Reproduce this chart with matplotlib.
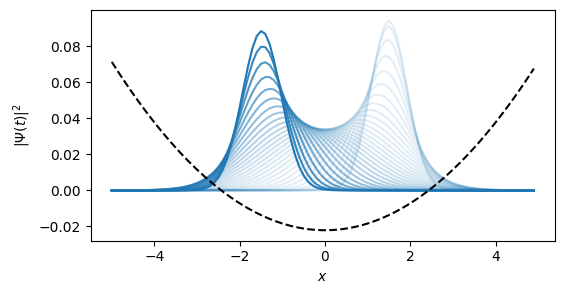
import numpy as np
import matplotlib
matplotlib.use("Agg")
import matplotlib.pyplot as plt

# grid of x values
x_start, x_stop, x_step = -5.0, 5.0, 0.1

# wave-packet snapshots: peak position and peak height
peak_pos = [1.500, 1.493, 1.470, 1.433, 1.382, 1.316, 1.238, 1.147, 1.045, 0.932,
            0.811, 0.680, 0.544, 0.401, 0.255, 0.106, -0.044, -0.193, -0.341, -0.485,
            -0.624, -0.757, -0.883, -0.999, -1.106, -1.202, -1.285, -1.356, -1.413, -1.456,
            -1.485]
peak_height = [0.0940, 0.0910, 0.0836, 0.0747, 0.0662, 0.0590, 0.0531, 0.0483, 0.0445, 0.0416,
               0.0392, 0.0374, 0.0360, 0.0350, 0.0343, 0.0339, 0.0339, 0.0341, 0.0346, 0.0355,
               0.0367, 0.0384, 0.0405, 0.0432, 0.0466, 0.0510, 0.0563, 0.0630, 0.0710, 0.0799,
               0.0883]

# harmonic potential (scaled)
pot_coef = 0.003732
pot_min = -0.0221

x = np.arange(x_start, x_stop - 1e-9, x_step)

fig = plt.figure(figsize=(5.64, 2.94), dpi=100)
ax = fig.add_axes([0.1608, 0.1813, 0.984 - 0.1608, 0.965 - 0.1813])

n = len(peak_pos)
for k, (c, h) in enumerate(zip(peak_pos, peak_height)):
    sigma = x_step / (h * np.sqrt(2 * np.pi))
    y = h * np.exp(-0.5 * ((x - c) / sigma) ** 2)
    alpha = 0.12 + 0.88 * (k / (n - 1)) ** 4
    ax.plot(x, y, color="C0", alpha=alpha, lw=1.5)

ax.plot(x, pot_coef * x ** 2 + pot_min, "k--", lw=1.5)

ax.set_xlabel("$x$")
ax.set_ylabel(r"$|\Psi(t)|^2$")

fig.savefig("out.png", dpi=100)
